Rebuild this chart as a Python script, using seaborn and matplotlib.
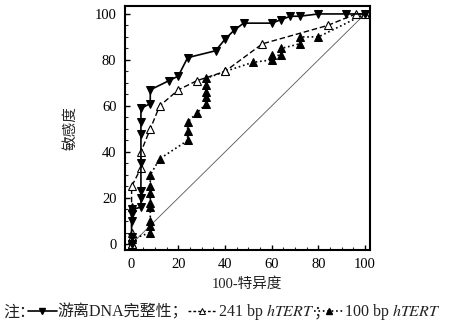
import matplotlib
matplotlib.use("Agg")
import matplotlib.pyplot as plt
import seaborn as sns
import pandas as pd
from matplotlib.lines import Line2D
from matplotlib.ticker import MultipleLocator

sns.set_theme(style="ticks")
plt.rcParams['font.family'] = ['Liberation Serif', 'Noto Sans CJK SC']
plt.rcParams['mathtext.fontset'] = 'stix'

# Series 1: 游离DNA完整性
s1_x = [0, 0, 0, 0, 0, 4, 4, 4, 4, 4, 4, 4, 8, 8, 16, 20, 24, 36, 40, 44, 48, 60, 64, 68, 72, 80, 92, 100]
s1_y = [0, 3, 10, 13, 15, 16, 20, 23, 35, 48, 53, 59, 61, 67, 71, 73, 81, 84, 89, 93, 96, 96, 97.5, 99, 99, 100, 100, 100]
# Series 2: 241 bp hTERT
s2_x = [0, 0, 0, 0, 0, 4, 4, 8, 12, 20, 28, 40, 56, 84, 96, 100]
s2_y = [0, 3, 5, 16, 25, 33, 40, 50, 60, 67, 71, 75, 87, 95, 100, 100]
# Series 3: 100 bp hTERT
s3_x = [0, 0, 8, 8, 8, 8, 8, 8, 8, 8, 12, 24, 24, 24, 28, 32, 32, 32, 32, 32, 40, 52, 60, 60, 64, 64, 72, 72, 80, 100]
s3_y = [0, 2, 5, 8, 10, 16, 18, 22, 25, 30, 37, 45, 49, 53, 57, 61, 64, 66, 69, 72, 75, 79, 80, 82, 82, 85, 87, 90, 90, 100]
diag_x = [0, 100]
diag_y = [0, 100]

labels = ["游离DNA完整性；", "241 bp $\\mathit{hTERT}$", "100 bp $\\mathit{hTERT}$"]
x_ticks = [0, 20, 40, 60, 80, 100]
y_ticks = [0, 20, 40, 60, 80, 100]

fig = plt.figure(figsize=(4.49, 3.27), dpi=100)
ax = fig.add_axes([0.278, 0.2355, 0.546, 0.7465])

sns.lineplot(x=diag_x, y=diag_y, ax=ax, color="#555555", linewidth=0.6, sort=False, estimator=None)
ms = 6.3
sns.lineplot(x=s3_x, y=s3_y, ax=ax, color="black", linestyle=":", linewidth=1.2, marker="^",
             markersize=ms, markerfacecolor="black", markeredgecolor="black", sort=False, estimator=None)
sns.lineplot(x=s2_x, y=s2_y, ax=ax, color="black", linestyle=(0, (4, 2)), linewidth=1.0, marker="^",
             markersize=ms, markerfacecolor="white", markeredgecolor="black", markeredgewidth=0.8,
             sort=False, estimator=None)
sns.lineplot(x=s1_x, y=s1_y, ax=ax, color="black", linestyle="-", linewidth=1.2, marker="v",
             markersize=ms, markerfacecolor="black", markeredgecolor="black", sort=False, estimator=None)

ax.set_xlim(-2.9, 102.1)
ax.set_ylim(-2.6, 103.5)
ax.set_xticks(x_ticks)
ax.set_yticks(y_ticks)
ax.xaxis.set_minor_locator(MultipleLocator(5))
ax.yaxis.set_minor_locator(MultipleLocator(5))
ax.tick_params(which="major", direction="in", length=3.5, width=1.0, labelsize=10.5, pad=6,
               top=False, right=False, colors="black")
ax.tick_params(which="minor", direction="in", length=2, width=0.8, top=False, right=False)
for sp in ax.spines.values():
    sp.set_visible(True)
    sp.set_linewidth(1.5)
    sp.set_color("black")
ax.set_xlabel("100-特异度", fontsize=10.5, labelpad=4, color="#222222")
ax.set_ylabel("敏感度", fontsize=10.5, labelpad=12, color="#222222")

handles = [
    Line2D([], [], color="black", linestyle="-", linewidth=1.2, marker="v", markersize=5,
           markerfacecolor="black"),
    Line2D([], [], color="black", linestyle=(0, (2, 1.5)), linewidth=1.0, marker="^", markersize=5,
           markerfacecolor="white", markeredgewidth=0.7),
    Line2D([], [], color="black", linestyle=":", linewidth=1.2, marker="^", markersize=5,
           markerfacecolor="black"),
]
leg_labels = [labels[0], labels[1][:-1] + "\\quad\\;$", labels[2]]
fig.text(0.008, 0.045, "注：", fontsize=11.5, ha="left", va="center", color="#222222")
leg = fig.legend(handles, leg_labels, loc="center left", bbox_to_anchor=(0.062, 0.045), ncol=3,
                 frameon=False, fontsize=11.5, handlelength=1.8, handletextpad=0.05,
                 columnspacing=0.0, borderaxespad=0, borderpad=0)
for t in leg.get_texts():
    t.set_color("#222222")

fig.canvas.draw()
renderer = fig.canvas.get_renderer()
bb = leg.get_texts()[1].get_window_extent(renderer)
tmp = fig.text(0, 0, labels[1], fontsize=11.5)
w = tmp.get_window_extent(renderer).width
tmp.remove()
fig.text((bb.x0 + w) / fig.bbox.width, 0.045, "；", fontsize=11.5, ha="left", va="center",
         color="#222222")

fig.savefig("out.png", dpi=100)
